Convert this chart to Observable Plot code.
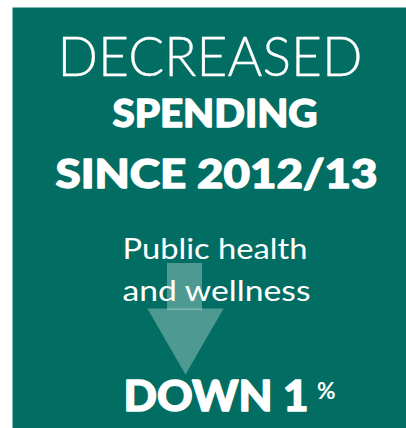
<!DOCTYPE html>
<html>
<head>
<meta charset="utf-8">
<script src="https://cdn.jsdelivr.net/npm/d3@7"></script>
<script src="https://cdn.jsdelivr.net/npm/@observablehq/plot@0.6"></script>
<style>
  html, body { margin: 0; padding: 0; background: #ffffff; }
  #chart svg { display: block; }
</style>
</head>
<body>
<div id="chart"></div>
<script>
// ---- data ----
const headlineLight = ["DECREASED"];
const headlineBold = ["SPENDING", "SINCE 2012/13"];
const categoryLines = ["Public health", "and wellness"];
const direction = ["DOWN"];
const changeValues = [1];
const changeUnit = ["%"];

// ---- layout (pixel space mapped through identity scales) ----
const W = 406, H = 428;
const teal = "#026e63";
const bold = "'Lato Black', 'Lato Heavy', Lato, sans-serif";
const panel = [{x1: 12.5, x2: W, y1: 7.5, y2: H}];
const lightLines = headlineLight.map((t) => ({t, x: 57, y: 75, w: 305}));
const boldLines = headlineBold.map((t, i) => ({t, x: [112, 55][i], y: [126, 187][i], w: [205, 322][i]}));
const catLines = categoryLines.map((t, i) => ({t, x: [122, 122][i], y: [258, 300][i], w: [185, 188][i]}));
const arrowShaft = [{x1: 167, x2: 202, y1: 263, y2: 310}];
const arrowHead = [{x: 185, y: 330}];
const downLine = [{t: `${direction[0]} ${changeValues[0]}`, x: 123, y: 410, w: 185}];
const unitLine = [{t: changeUnit[0], x: 316.5, y: 398, w: 18.5}];

const textCommon = {x: "x", y: "y", text: "t", fill: "#ffffff", lineAnchor: "bottom", textAnchor: "start"};
const heavy = {stroke: "#ffffff", strokeWidth: 1.3, strokeOpacity: 1};
const textSets = [lightLines, boldLines.slice(0, 1), boldLines.slice(1), catLines, downLine, unitLine];

const chart = Plot.plot({
  width: W,
  height: H,
  margin: 0,
  x: {domain: [0, W], range: [0, W], axis: null},
  y: {domain: [0, H], range: [0, H], axis: null},
  style: {background: "#ffffff"},
  marks: [
    Plot.rect(panel, {x1: "x1", x2: "x2", y1: "y1", y2: "y2", fill: teal}),
    Plot.rect(arrowShaft, {x1: "x1", x2: "x2", y1: "y1", y2: "y2", fill: "#ffffff", fillOpacity: 0.3}),
    Plot.dot(arrowHead, {x: "x", y: "y", symbol: "triangle", rotate: 180, r: 28.3, fill: "#ffffff", fillOpacity: 0.3, stroke: null}),
    Plot.text(textSets[0], {...textCommon, fontSize: 56, fontWeight: 300, fontFamily: "Lato", stroke: "#ffffff", strokeWidth: 0.3}),
    Plot.text(textSets[1], {...textCommon, ...heavy, fontSize: 37.5, fontWeight: 900, fontFamily: bold}),
    Plot.text(textSets[2], {...textCommon, ...heavy, fontSize: 40, fontWeight: 900, fontFamily: bold}),
    Plot.text(textSets[3], {...textCommon, fontSize: 29.5, fontWeight: 400, fontFamily: "Lato"}),
    Plot.text(textSets[4], {...textCommon, ...heavy, fontSize: 41.5, fontWeight: 900, fontFamily: bold}),
    Plot.text(textSets[5], {...textCommon, fontSize: 22, fontWeight: 700, fontFamily: "Lato"})
  ]
});

// fit each label to the measured width of the original lettering
const groups = chart.querySelectorAll('g[aria-label="text"]');
groups.forEach((g, gi) => {
  const rows = textSets[gi];
  g.querySelectorAll("text").forEach((el, i) => {
    el.setAttribute("textLength", rows[i].w);
    el.setAttribute("lengthAdjust", "spacingAndGlyphs");
  });
});
document.getElementById("chart").appendChild(chart);
</script>
</body>
</html>
